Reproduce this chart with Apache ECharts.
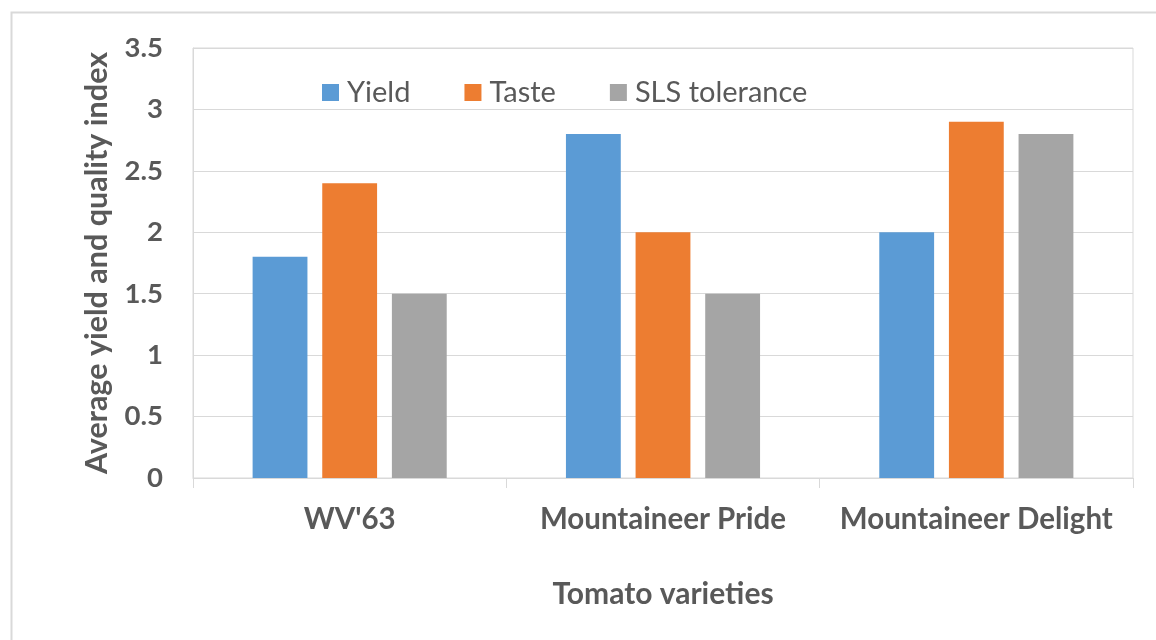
<!DOCTYPE html>
<html><head><meta charset="utf-8">
<script src="https://cdn.jsdelivr.net/npm/echarts@6/dist/echarts.min.js"></script>
<style>html,body{margin:0;padding:0;background:#fff}#c{width:1156px;height:640px}</style>
</head><body><div id="c"></div>
<script>
const categories = ["WV'63", "Mountaineer Pride", "Mountaineer Delight"];
const yieldVals = [1.8, 2.8, 2.0];
const tasteVals = [2.4, 2.0, 2.9];
const slsVals = [1.5, 1.5, 2.8];
const seriesNames = ["Yield", "Taste", "SLS tolerance"];
const colors = ["#5B9BD5", "#ED7D31", "#A5A5A5"];
const FONT = "Lato";
const TXT = "#595959";

const chart = echarts.init(document.getElementById('c'));
const mk = (name, data, color) => ({
  name, type: 'bar', data, barWidth: '17.5%', barGap: '27%',
  itemStyle: { color }
});
chart.setOption({
  animation: false,
  graphic: [{ type: 'rect', shape: { x: 11.5, y: 12.5, width: 1200, height: 700 },
    style: { fill: 'none', stroke: '#d9d9d9', lineWidth: 2 }, silent: true }],
  legend: {
    left: 322, top: 78, padding: 0, itemWidth: 17, itemHeight: 17, itemGap: 54,
    icon: 'rect',
    textStyle: { fontFamily: FONT, fontSize: 29, color: TXT, padding: [0,0,0,3] },
    data: seriesNames
  },
  grid: { left: 193, right: 23, top: 48, bottom: 162, show: true, borderColor: '#d9d9d9', borderWidth: 1 },
  xAxis: {
    type: 'category', data: categories,
    axisLine: { lineStyle: { color: '#d9d9d9', width: 1 } },
    axisTick: { show: true, length: 10, lineStyle: { color: '#d9d9d9' } },
    axisLabel: { interval: 0, fontFamily: FONT, fontWeight: 'bold', fontSize: 29.5, color: TXT, margin: 26 },
    name: 'Tomato varieties', nameLocation: 'middle', nameGap: 101,
    nameTextStyle: { fontFamily: FONT, fontWeight: 'bold', fontSize: 30, color: TXT }
  },
  yAxis: {
    type: 'value', min: 0, max: 3.5, interval: 0.5,
    axisLine: { show: true, lineStyle: { color: '#d9d9d9' } },
    axisTick: { show: false },
    splitLine: { lineStyle: { color: '#d9d9d9', width: 1 } },
    axisLabel: { fontFamily: FONT, fontWeight: 'bold', fontSize: 27.5, color: TXT, margin: 30 },
    name: 'Average yield and quality index', nameLocation: 'middle', nameGap: 80,
    nameTextStyle: { fontFamily: FONT, fontWeight: 'bold', fontSize: 30.5, color: TXT }
  },
  series: [mk(seriesNames[0], yieldVals, colors[0]), mk(seriesNames[1], tasteVals, colors[1]), mk(seriesNames[2], slsVals, colors[2])]
});
</script></body></html>
